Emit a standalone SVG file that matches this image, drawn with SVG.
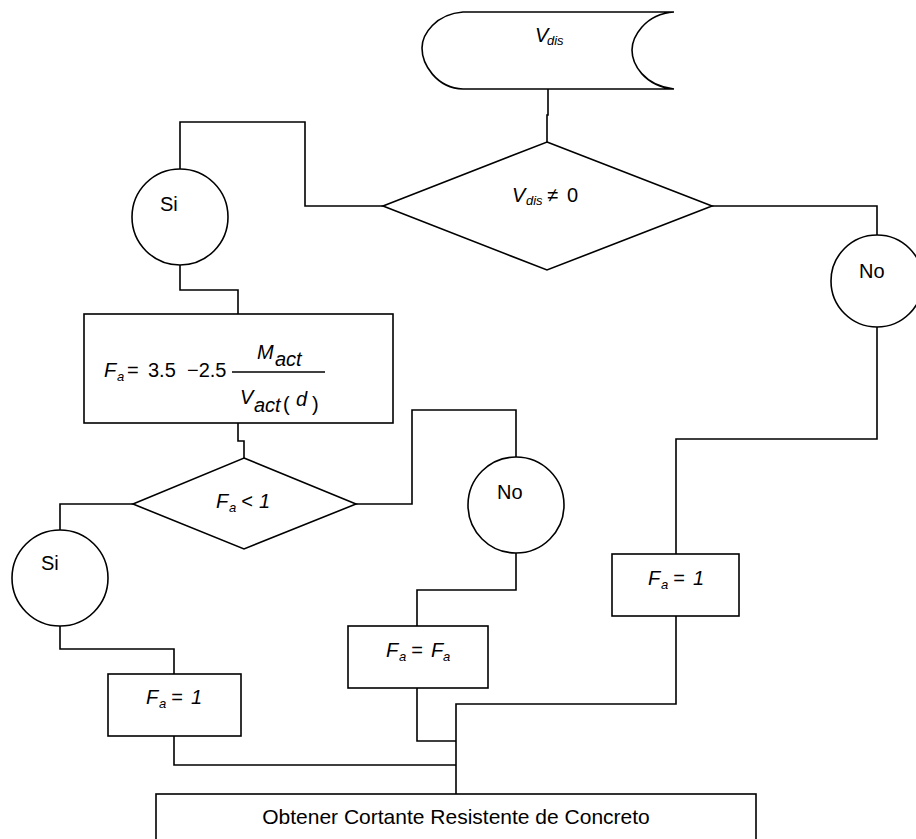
<svg xmlns="http://www.w3.org/2000/svg" width="916" height="839" viewBox="0 0 916 839">
<style>
.s{fill:#fff;stroke:#000;stroke-width:1.6}
.c{fill:none;stroke:#000;stroke-width:1.6}
text{font-family:"Liberation Sans","DejaVu Sans",Arial,sans-serif;fill:#000}
.i{font-style:italic;font-size:20px}
.sub{font-style:italic;font-size:13px}
.r{font-size:20px}
.m{font-style:italic;font-size:20px}
</style>
<rect width="916" height="839" fill="#fff"/>
<g id="connectors">
<polyline class="c" points="548,89 548,115 547,115 547,142"/>
<polyline class="c" points="383,206 305,206 305,122 180,122 180,169"/>
<polyline class="c" points="180,265 180,290 238,290 238,314"/>
<polyline class="c" points="238,423 238,441 244,441 244,458"/>
<polyline class="c" points="133,504 60,504 60,530"/>
<polyline class="c" points="60,626 60,649 174,649 174,674"/>
<polyline class="c" points="174,736 174,765 456,765"/>
<polyline class="c" points="356,504 412,504 412,410 516,410 516,457"/>
<polyline class="c" points="516,553 516,590 417,590 417,626"/>
<polyline class="c" points="417,688 417,741 456,741"/>
<polyline class="c" points="712,206 877,206 877,235"/>
<polyline class="c" points="877,327 877,439 676,439 676,554"/>
<polyline class="c" points="676,616 676,704 456,704 456,794"/>
</g>
<g id="start">
<path class="s" d="M463,12 L674,12 C644,14 632,38 632,50 C632,64 644,86 674,89 L463,89 C436,88 422,64 422,48 C422,34 436,14 463,12 Z"/>
<text class="i" x="535" y="42" font-size="19">V</text><text class="sub" x="547" y="45" font-size="12">dis</text>
</g>
<g id="decision1">
<polygon class="s" points="547,142 712,206 547,270 383,206"/>
<text class="i" x="512" y="202">V</text><text class="sub" x="526" y="205" font-size="12">dis</text><text class="r" x="547" y="202">≠</text><text class="r" x="567" y="202">0</text>
</g>
<g id="si1">
<circle class="s" cx="180" cy="217" r="48"/>
<text class="r" x="160" y="211">Si</text>
</g>
<g id="no1">
<circle class="s" cx="877" cy="281" r="46"/>
<text class="r" x="859" y="278">No</text>
</g>
<g id="formula">
<rect class="s" x="84" y="314" width="309" height="109"/>
<text class="m" x="104" y="377">F</text><text class="sub" x="117" y="381">a</text>
<text class="r" x="127" y="377">=</text>
<text class="r" x="148" y="377">3.5</text>
<text class="r" x="187" y="377">−2.5</text>
<line class="c" x1="232" y1="372" x2="325" y2="372"/>
<text class="m" x="257" y="359">M</text><text class="m" x="275" y="366">act</text>
<text class="m" x="240" y="404">V</text><text class="m" x="254" y="412">act</text>
<text class="r" x="283" y="411" font-size="30">(</text>
<text class="m" x="296" y="406">d</text>
<text class="r" x="312" y="411" font-size="30">)</text>
</g>
<g id="decision2">
<polygon class="s" points="244,458 356,504 244,549 133,504"/>
<text class="i" x="216" y="508">F</text><text class="sub" x="229" y="512">a</text><text class="i" x="241" y="508">&lt;</text><text class="i" x="259" y="508">1</text>
</g>
<g id="si2">
<circle class="s" cx="60" cy="578" r="48"/>
<text class="r" x="41" y="570">Si</text>
</g>
<g id="no2">
<circle class="s" cx="516" cy="505" r="48"/>
<text class="r" x="497" y="499">No</text>
</g>
<g id="fa1left">
<rect class="s" x="108" y="674" width="133" height="62"/>
<text class="i" x="146" y="704">F</text><text class="sub" x="159" y="708">a</text><text class="i" x="171" y="704">=</text><text class="i" x="191" y="704">1</text>
</g>
<g id="fafa">
<rect class="s" x="348" y="626" width="140" height="62"/>
<text class="i" x="386" y="657">F</text><text class="sub" x="399" y="661">a</text><text class="i" x="411" y="657">=</text><text class="i" x="431" y="657">F</text><text class="sub" x="443" y="661">a</text>
</g>
<g id="fa1right">
<rect class="s" x="612" y="554" width="127" height="62"/>
<text class="i" x="648" y="585">F</text><text class="sub" x="661" y="589">a</text><text class="i" x="673" y="585">=</text><text class="i" x="693" y="585">1</text>
</g>
<g id="end">
<rect class="s" x="156" y="794" width="600" height="70"/>
<text x="456" y="824" font-size="21" text-anchor="middle">Obtener Cortante Resistente de Concreto</text>
</g>
</svg>
